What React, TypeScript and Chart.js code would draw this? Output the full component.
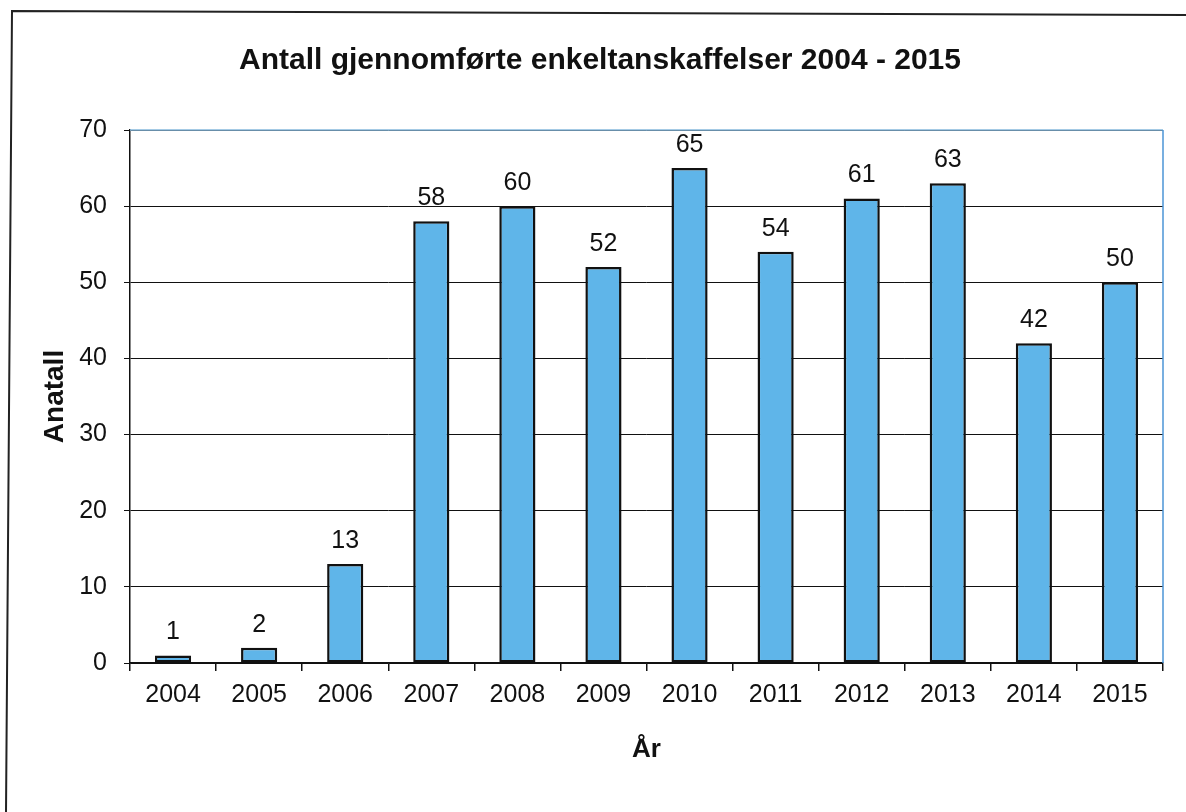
import React, { useEffect, useRef } from "react";
import { Chart, registerables } from "chart.js";

Chart.register(...registerables);

const years: string[] = ["2004", "2005", "2006", "2007", "2008", "2009", "2010", "2011", "2012", "2013", "2014", "2015"];
const counts: number[] = [1, 2, 13, 58, 60, 52, 65, 54, 61, 63, 42, 50];
const yTicks: number[] = [0, 10, 20, 30, 40, 50, 60, 70];

const FONT = "'Liberation Sans', Arial, sans-serif";

const frameAndLabels = {
  id: "frameAndLabels",
  afterDatasetsDraw(chart: any) {
    const ctx = chart.ctx;
    const meta = chart.getDatasetMeta(0);
    ctx.save();
    ctx.font = `25px ${FONT}`;
    ctx.fillStyle = "#111";
    ctx.textAlign = "center";
    ctx.textBaseline = "middle";
    meta.data.forEach((bar: any, i: number) => {
      ctx.fillText(String(counts[i]), bar.x, bar.y - 23);
    });
    ctx.restore();
  },
  afterDraw(chart: any) {
    const ctx = chart.ctx;
    const a = chart.chartArea;
    ctx.save();
    ctx.lineWidth = 1.5;
    ctx.strokeStyle = "#86b9dd";
    ctx.beginPath();
    ctx.moveTo(a.left, a.top);
    ctx.lineTo(a.right, a.top);
    ctx.stroke();
    ctx.strokeStyle = "#4b94d6";
    ctx.beginPath();
    ctx.moveTo(a.right, a.top);
    ctx.lineTo(a.right, a.bottom);
    ctx.stroke();
    ctx.strokeStyle = "#222";
    ctx.lineWidth = 2;
    ctx.beginPath();
    ctx.moveTo(6, 812);
    ctx.lineTo(12, 11);
    ctx.lineTo(1186, 15);
    ctx.stroke();
    ctx.restore();
  },
};

export default function App() {
  const canvasRef = useRef<HTMLCanvasElement | null>(null);

  useEffect(() => {
    if (!canvasRef.current) return;
    const chart = new Chart(canvasRef.current, {
      type: "bar",
      data: {
        labels: years,
        datasets: [
          {
            data: counts,
            backgroundColor: "#5fb5e9",
            borderColor: "#111",
            borderWidth: 2.5,
            borderSkipped: false,
            categoryPercentage: 1,
            barPercentage: 0.42,
          },
        ],
      },
      plugins: [frameAndLabels],
      options: {
        responsive: false,
        animation: false,
        layout: { padding: { left: 14, right: 0, top: 0, bottom: 0 } },
        plugins: {
          legend: { display: false },
          tooltip: { enabled: false },
          title: {
            display: true,
            text: "Antall gjennomførte enkeltanskaffelser 2004 - 2015",
            color: "#111",
            font: { family: FONT, size: 30, weight: "bold" },
            padding: { top: 43, bottom: 51 },
          },
        },
        scales: {
          x: {
            afterFit: (s: any) => {
              s.height = 149;
            },
            grid: {
              display: true,
              offset: true,
              drawOnChartArea: false,
              drawTicks: true,
              tickLength: 8,
              color: "#111",
              lineWidth: 1.5,
            },
            border: { display: true, color: "#111", width: 1.5 },
            ticks: {
              color: "#111",
              font: { family: FONT, size: 25 },
              padding: 9,
              maxRotation: 0,
              autoSkip: false,
            },
            title: {
              display: true,
              text: "År",
              color: "#111",
              font: { family: FONT, size: 26, weight: "bold" },
              padding: { top: 0, bottom: 47 },
            },
          },
          y: {
            min: 0,
            max: 70,
            afterFit: (s: any) => {
              s.width = 116;
            },
            afterBuildTicks: (s: any) => {
              s.ticks = yTicks.map((v) => ({ value: v }));
            },
            grid: {
              color: "#111",
              lineWidth: 1,
              tickLength: 6,
              drawTicks: true,
            },
            border: { display: true, color: "#111", width: 1.5 },
            ticks: {
              color: "#111",
              font: { family: FONT, size: 25 },
              padding: 17,
            },
            title: {
              display: true,
              text: "Anatall",
              color: "#111",
              font: { family: FONT, size: 28, weight: "bold" },
              padding: { top: 24, bottom: 0 },
            },
          },
          yRight: {
            position: "right",
            display: true,
            min: 0,
            max: 70,
            afterFit: (s: any) => {
              s.width = 23;
            },
            grid: { display: false, drawOnChartArea: false },
            border: { display: false },
            ticks: { display: false },
          },
        },
      } as any,
    });
    return () => chart.destroy();
  }, []);

  return (
    <div style={{ position: "fixed", left: 0, top: 0, width: 1186, height: 812, background: "#fff" }}>
      <canvas ref={canvasRef} width={1186} height={812} style={{ width: 1186, height: 812, display: "block" }} />
    </div>
  );
}
